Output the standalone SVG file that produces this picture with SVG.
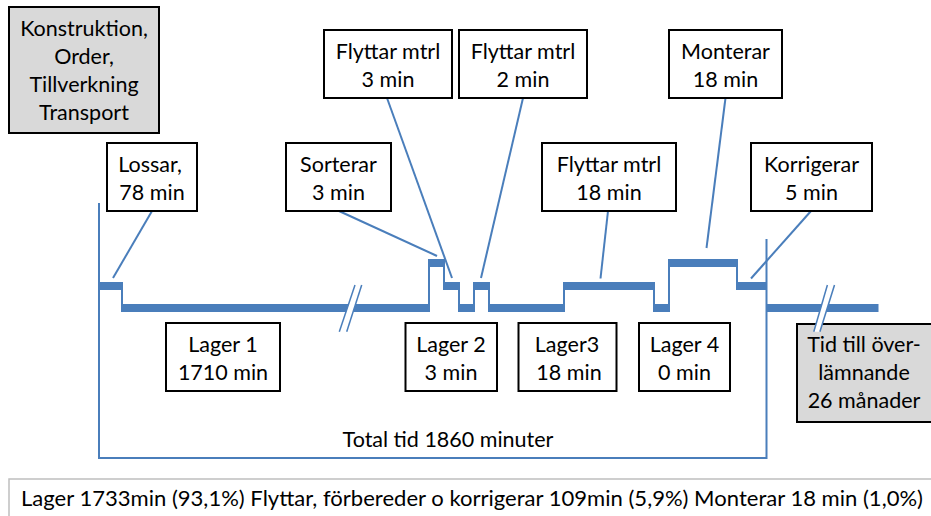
<svg xmlns="http://www.w3.org/2000/svg" width="931" height="516" viewBox="0 0 931 516">
  <style>
    .box { fill: #ffffff; stroke: #000000; stroke-width: 2; }
    .grey { fill: #d9d9d9; stroke: #000000; stroke-width: 2; }
    .t { font-family: Lato, "Liberation Sans", sans-serif; font-size: 21.5px; fill: #000000; text-anchor: middle; }
    .lead { stroke: #4a7ebb; stroke-width: 2; fill: none; }
    .bar { fill: #4a7ebb; }
    .step { stroke: #4a7ebb; stroke-width: 2; }
    .brk { stroke: #4a7ebb; stroke-width: 1.5; }
  </style>

  <!-- timeline and connectors -->
  <g id="connectors">
    <!-- total time bracket -->
    <polyline class="lead" points="99,203 99,458 766.5,458 766.5,239"/>

    <!-- time bars: mid level y=286, low y=308, top y=263 -->
    <rect class="bar" x="99" y="282" width="23" height="8"/>
    <rect class="bar" x="122" y="304" width="307" height="8"/>
    <rect class="bar" x="429" y="259" width="15" height="8"/>
    <rect class="bar" x="444" y="282" width="15" height="8"/>
    <rect class="bar" x="459" y="304" width="15" height="8"/>
    <rect class="bar" x="474" y="282" width="15" height="8"/>
    <rect class="bar" x="489" y="304" width="75" height="8"/>
    <rect class="bar" x="564" y="282" width="90" height="8"/>
    <rect class="bar" x="654" y="304" width="15" height="8"/>
    <rect class="bar" x="669" y="259" width="68" height="8"/>
    <rect class="bar" x="737" y="282" width="29.5" height="8"/>
    <rect class="bar" x="766.5" y="304" width="112" height="8"/>

    <!-- vertical steps -->
    <line class="step" x1="122" y1="282" x2="122" y2="312"/>
    <line class="step" x1="429" y1="259" x2="429" y2="312"/>
    <line class="step" x1="444" y1="259" x2="444" y2="290"/>
    <line class="step" x1="459" y1="282" x2="459" y2="312"/>
    <line class="step" x1="474" y1="282" x2="474" y2="312"/>
    <line class="step" x1="489" y1="282" x2="489" y2="312"/>
    <line class="step" x1="564" y1="282" x2="564" y2="312"/>
    <line class="step" x1="654" y1="282" x2="654" y2="312"/>
    <line class="step" x1="669" y1="259" x2="669" y2="312"/>
    <line class="step" x1="737" y1="259" x2="737" y2="290"/>

    <!-- callout leaders -->
    <line class="lead" x1="152" y1="211" x2="113" y2="278"/>
    <line class="lead" x1="339" y1="211" x2="437" y2="256"/>
    <line class="lead" x1="387" y1="98" x2="452" y2="278"/>
    <line class="lead" x1="523" y1="98" x2="481" y2="278"/>
    <line class="lead" x1="608" y1="211" x2="600.5" y2="278.5"/>
    <line class="lead" x1="725.5" y1="98" x2="706.5" y2="248"/>
    <line class="lead" x1="811" y1="211" x2="751" y2="278.5"/>
  </g>

  <!-- callouts above the timeline -->
  <g id="n-start">
    <rect class="grey" x="9" y="7" width="150" height="126"/>
    <text class="t" x="84" y="36">Konstruktion,</text>
    <text class="t" x="84" y="64">Order,</text>
    <text class="t" x="84" y="92">Tillverkning</text>
    <text class="t" x="84" y="120">Transport</text>
  </g>
  <g id="n-lossar">
    <rect class="box" x="107" y="143" width="90" height="68"/>
    <text class="t" x="150" y="172">Lossar,</text>
    <text class="t" x="152" y="200">78 min</text>
  </g>
  <g id="n-sorterar">
    <rect class="box" x="286" y="143" width="105" height="68"/>
    <text class="t" x="338.5" y="172">Sorterar</text>
    <text class="t" x="338.5" y="200">3 min</text>
  </g>
  <g id="n-flytt3">
    <rect class="box" x="324" y="30" width="128" height="68"/>
    <text class="t" x="388" y="59">Flyttar mtrl</text>
    <text class="t" x="388" y="87">3 min</text>
  </g>
  <g id="n-flytt2">
    <rect class="box" x="459" y="30" width="128" height="68"/>
    <text class="t" x="523" y="59">Flyttar mtrl</text>
    <text class="t" x="523" y="87">2 min</text>
  </g>
  <g id="n-flytt18">
    <rect class="box" x="542" y="143" width="134" height="68"/>
    <text class="t" x="609" y="172">Flyttar mtrl</text>
    <text class="t" x="609" y="200">18 min</text>
  </g>
  <g id="n-monterar">
    <rect class="box" x="669" y="30" width="113" height="68"/>
    <text class="t" x="725.5" y="59">Monterar</text>
    <text class="t" x="725.5" y="87">18 min</text>
  </g>
  <g id="n-korrigerar">
    <rect class="box" x="751" y="143" width="121" height="68"/>
    <text class="t" x="811.5" y="172">Korrigerar</text>
    <text class="t" x="811.5" y="200">5 min</text>
  </g>

  <!-- storage boxes below the timeline -->
  <g id="n-lager1">
    <rect class="box" x="166" y="323" width="114" height="68"/>
    <text class="t" x="223" y="352">Lager 1</text>
    <text class="t" x="223" y="380">1710 min</text>
  </g>
  <g id="n-lager2">
    <rect class="box" x="405.5" y="323" width="91.5" height="68"/>
    <text class="t" x="451" y="352">Lager 2</text>
    <text class="t" x="451" y="380">3 min</text>
  </g>
  <g id="n-lager3">
    <rect class="box" x="518.5" y="323" width="98" height="68"/>
    <text class="t" x="567" y="352">Lager3</text>
    <text class="t" x="569" y="380">18 min</text>
  </g>
  <g id="n-lager4">
    <rect class="box" x="639" y="323" width="91" height="68"/>
    <text class="t" x="684.5" y="352">Lager 4</text>
    <text class="t" x="684.5" y="380">0 min</text>
  </g>
  <g id="n-overlamning">
    <rect class="grey" x="797" y="324" width="135" height="98"/>
    <text class="t" x="864" y="352">Tid till över-</text>
    <text class="t" x="864" y="380">lämnande</text>
    <text class="t" x="864" y="408">26 månader</text>
  </g>

  <!-- time breaks drawn over bars -->
  <g id="breaks">
    <polygon points="355,285 361.7,285 346.7,331.7 339.3,331.7" fill="#ffffff"/>
    <line class="brk" x1="355" y1="285" x2="339.3" y2="331.7"/>
    <line class="brk" x1="361.7" y1="285" x2="346.7" y2="331.7"/>
    <polygon points="827.4,285 834.5,285 819.9,331.7 813.8,331.7" fill="#ffffff"/>
    <line class="brk" x1="827.4" y1="285" x2="813.8" y2="331.7"/>
    <line class="brk" x1="834.5" y1="285" x2="819.9" y2="331.7"/>
  </g>

  <text id="total" class="t" x="448" y="447">Total tid 1860 minuter</text>

  <g id="summary">
    <rect x="9" y="479" width="930" height="50" fill="#ffffff" stroke="#bfbfbf" stroke-width="1.5"/>
    <text class="t" x="472" y="506" textLength="902" lengthAdjust="spacingAndGlyphs">Lager 1733min (93,1%) Flyttar, förbereder o korrigerar 109min (5,9%) Monterar 18 min (1,0%)</text>
  </g>
</svg>
